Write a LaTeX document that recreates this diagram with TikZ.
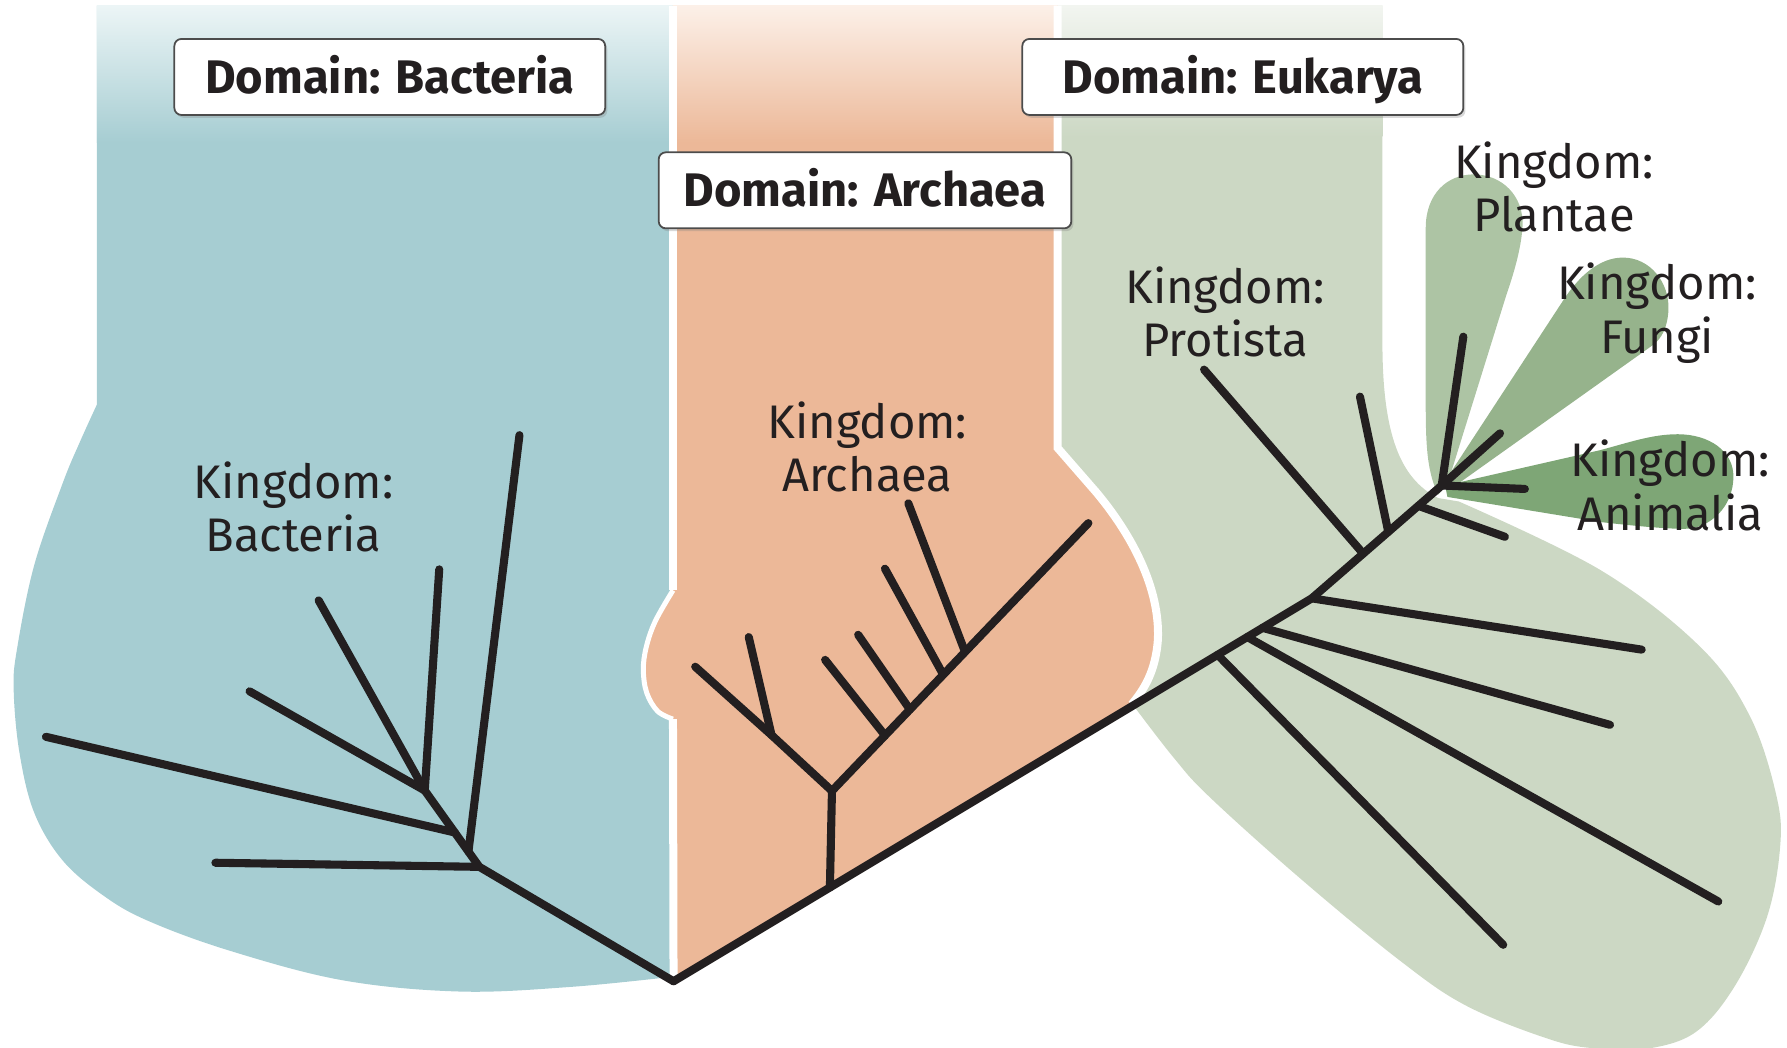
\documentclass[tikz,border=0pt]{standalone}
\usepackage{fontspec}
\setmainfont{Fira Sans}
\usetikzlibrary{calc,shadows}

\definecolor{bactBlue}{RGB}{166,205,210}
\definecolor{bactTop}{RGB}{236,245,246}
\definecolor{archOrange}{RGB}{236,184,152}
\definecolor{archTop}{RGB}{252,240,232}
\definecolor{eukGreen}{RGB}{204,216,196}
\definecolor{eukTop}{RGB}{242,245,240}
\definecolor{plantGreen}{RGB}{173,196,164}
\definecolor{fungiGreen}{RGB}{150,179,140}
\definecolor{animalGreen}{RGB}{126,166,118}
\definecolor{ink}{RGB}{35,31,32}

\tikzset{
  branch/.style={draw=ink, line width=2.3pt, line cap=round, line join=round},
  divider/.style={draw=white, line width=0.8mm},
  domainbox/.style={draw=black!70, fill=white, rounded corners=2pt, line width=0.5pt,
    minimum height=7.6mm, inner sep=0pt, text height=9.2pt, text depth=0pt,
    font=\fontsize{13.4}{15}\selectfont\bfseries, text=ink,
    drop shadow={shadow xshift=0.6pt, shadow yshift=-0.8pt, opacity=0.3}},
  kingdom/.style={align=center, anchor=north, inner sep=0pt,
    font=\fontsize{13.4}{15.2}\selectfont, text=ink}
}

\begin{document}
\begin{tikzpicture}[x=0.113967mm, y=-0.113967mm]
\useasboundingbox (0,0) rectangle (1568,919);

% tree points
\coordinate (R) at (591,861);
\coordinate (E1) at (1151,525);
\coordinate (H) at (1265,426);

% Eukarya background
\fill[eukGreen] (924,5) -- (1213,5) -- (1213,300) .. controls (1213,380) and (1228,420) .. (1262,437)
  -- (1280,440) -- plot[smooth, tension=0.6] coordinates {(1280,440) (1404,500) (1491.6,567.3)
  (1535.5,628.5) (1558.9,699) (1561.8,745) (1550,806) (1520.9,867.3) (1485.8,907) (1440,921)
  (1400,920) (1360,912) (1287,882.7) (1228.4,842.9) (1140,770) (1061,699) (1030,665) (996,621)}
  -- (960,560) -- (924,500) -- cycle;
\shade[top color=eukTop, bottom color=eukGreen] (924,5) rectangle (1213,120);

% Bacteria background
\fill[bactBlue] (85,5) -- (590.5,5) -- (590.5,857) -- plot[smooth, tension=0.6] coordinates {(590.5,857)
  (500,866) (403,870) (300,860) (201,834) (130,808) (91,786) (55,755) (30,713) (17,660) (12,605)
  (15,569) (30,496) (55,424) (70,388) (85,355)} -- cycle;
\shade[top color=bactTop, bottom color=bactBlue] (85,5) rectangle (590.5,125);

% Archaea background
\fill[archOrange] (590.5,5) -- (928,5) -- (928,393) -- (962,432)
  .. controls (992,468) and (1018,515) .. (1016,561)
  .. controls (1014,590) and (1003,606) .. (993,618) -- (R) -- (590.5,631)
  -- plot[smooth, tension=0.6] coordinates {(590.5,631) (577,624) (567.5,608) (564.5,588)
  (567,568) (575,545) (590.5,518)} -- cycle;
\shade[top color=archTop, bottom color=archOrange] (590.5,5) rectangle (928,125);

% white dividers
\draw[divider] (590.5,5) -- (590.5,518);
\draw[divider, line width=0.5mm] plot[smooth, tension=0.6] coordinates {(590.5,518) (575,545)
  (567,568) (564.5,588) (567.5,608) (577,624) (590.5,631)};
\draw[divider] (590.5,631) -- (R);
\draw[divider] (928,5) -- (928,393) -- (962,432)
  .. controls (992,468) and (1018,515) .. (1016,561)
  .. controls (1014,590) and (1003,606) .. (993,618);

% kingdom leaves
\fill[plantGreen] (1262,434) .. controls (1250,410) and (1251,380) .. (1251,330) -- (1251,200)
  .. controls (1251,170) and (1270,153) .. (1293,153) .. controls (1318,153) and (1337,172) .. (1336,198)
  .. controls (1335,215) and (1330,235) .. (1322,258) -- (1270,425) -- cycle;
\fill[fungiGreen] (1268,422) -- (1372,263) .. controls (1385,243) and (1403,226) .. (1424,226)
  .. controls (1448,226) and (1465,248) .. (1464,272) .. controls (1463,288) and (1458,297) .. (1450,303)
  -- (1280,424) -- cycle;
\fill[animalGreen] (1268,426) -- (1404,395) .. controls (1430,388) and (1450,381) .. (1472,381)
  .. controls (1500,381) and (1521,396) .. (1521,418) .. controls (1521,445) and (1500,464) .. (1478,464)
  .. controls (1460,464) and (1430,461) .. (1404,458) -- (1270,436) -- cycle;

% Bacteria tree
\coordinate (B0) at (420.6,760.6);
\coordinate (B2) at (372.7,693.6);
\coordinate (Bj) at ($(B0)!0.2!(B2)$);
\coordinate (B1) at ($(B0)!0.45!(B2)$);
\coordinate (Bh) at (189,757);
\coordinate (Bv) at (455.8,381.8);
\coordinate (Bl) at (40.3,646.5);
\coordinate (Ba) at (219,606.6);
\coordinate (Bb) at (279.6,526.8);
\coordinate (Bc) at (385.4,499.6);
\draw[branch] (R) -- (B0) -- (B2);
\draw[branch] (B0) -- (Bh);
\draw[branch] (Bj) -- (Bv);
\draw[branch] (B1) -- (Bl);
\draw[branch] (B2) -- (Ba);
\draw[branch] (B2) -- (Bb);
\draw[branch] (B2) -- (Bc);

% Archaea tree
\coordinate (Aj) at ($(R)!0.245!(E1)$);
\coordinate (A0) at (730,694);
\coordinate (A1) at (677,645);
\coordinate (Aa) at (610,585);
\coordinate (Ab) at (657,559);
\coordinate (At) at (955,459);
\coordinate (As1) at ($(A0)!0.207!(At)$);
\coordinate (As2) at ($(A0)!0.304!(At)$);
\coordinate (As3) at ($(A0)!0.434!(At)$);
\coordinate (As4) at ($(A0)!0.519!(At)$);
\draw[branch] (Aj) -- (A0) -- (At);
\draw[branch] (A0) -- (A1) -- (Aa);
\draw[branch] (A1) -- (Ab);
\draw[branch] (As1) -- (724,579);
\draw[branch] (As2) -- (753,557);
\draw[branch] (As3) -- (776.5,499);
\draw[branch] (As4) -- (797,441.6);

% Eukarya tree
\coordinate (Ej1) at ($(R)!0.8525!(E1)$);
\coordinate (Ej2) at ($(R)!0.899!(E1)$);
\coordinate (Ej3) at ($(R)!0.923!(E1)$);
\coordinate (Ep) at ($(E1)!0.396!(H)$);
\coordinate (Eq) at ($(E1)!0.589!(H)$);
\coordinate (Er) at ($(E1)!0.82!(H)$);
\draw[branch] (R) -- (E1) -- (H);
\draw[branch] (Ej1) -- (1319,829);
\draw[branch] (Ej2) -- (1507.7,791);
\draw[branch] (Ej3) -- (1412.7,636);
\draw[branch] (E1) -- (1440.5,570);
\draw[branch] (Ep) -- (1056.5,324.3);
\draw[branch] (Eq) -- (1193.3,348);
\draw[branch] (Er) -- (1320.5,471);
\draw[branch] (H) -- (1284,295.4);
\draw[branch] (H) -- (1316.2,380.2);
\draw[branch] (H) -- (1338,429);

% kingdom labels
\node[kingdom] (kBact) at (257.5,404.5) {Kingdom:\\Bacteria};
\node[kingdom] (kArch) at (761,351.5) {Kingdom:\\Archaea};
\node[kingdom] (kProt) at (1075,233.5) {Kingdom:\\Protista};
\node[kingdom] (kPlant) at (1363.5,123.5) {Kingdom:\\Plantae};
\node[kingdom] (kFungi) at (1454,230) {Kingdom:\\Fungi};
\node[kingdom] (kAnim) at (1465.5,385.5) {Kingdom:\\Animalia};

% domain labels
\node[domainbox, minimum width=43.08mm] (dBact) at (342,67.5) {Domain: Bacteria};
\node[domainbox, minimum width=41.26mm] (dArch) at (759,167) {Domain: Archaea};
\node[domainbox, minimum width=44.1mm] (dEuk) at (1090.5,67.5) {Domain: Eukarya};
\end{tikzpicture}
\end{document}
